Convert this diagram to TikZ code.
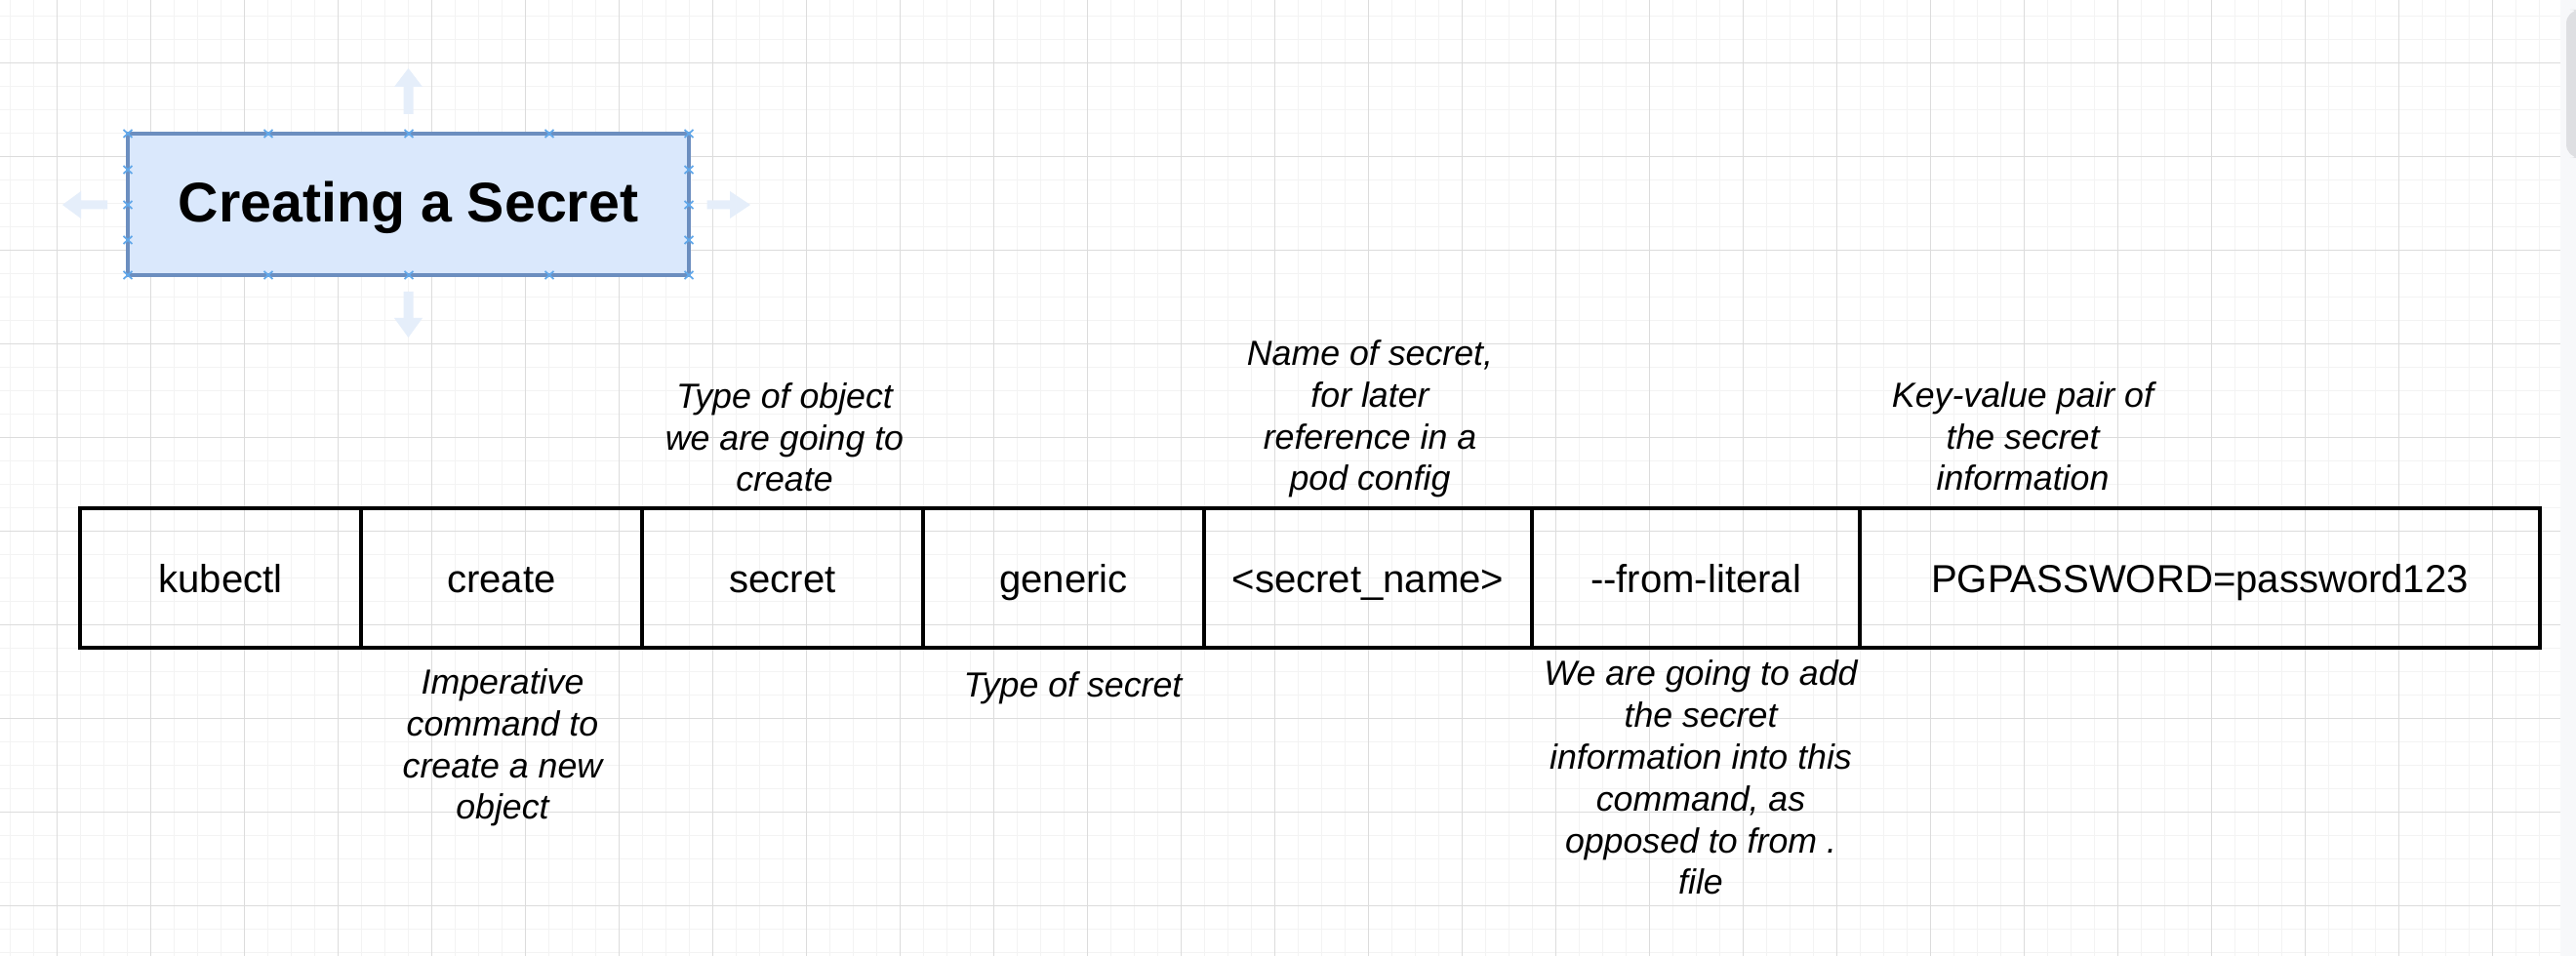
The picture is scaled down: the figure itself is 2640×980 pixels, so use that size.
\documentclass[tikz,border=0pt]{standalone}
\usepackage{fontspec}
\setmainfont{Liberation Sans}
\definecolor{gridminor}{RGB}{243,243,243}
\definecolor{gridmajor}{RGB}{220,220,220}
\definecolor{titlefill}{RGB}{218,232,252}
\definecolor{titleline}{RGB}{108,142,191}
\definecolor{handle}{RGB}{98,168,234}
\definecolor{hint}{RGB}{229,238,250}
\definecolor{barbg}{RGB}{247,248,250}
\definecolor{barthumb}{RGB}{222,223,226}

\begin{document}
\begin{tikzpicture}[x=0.01cm, y=-0.01cm,
    cell/.style={draw, line width=1pt, inner sep=0pt, outer sep=0pt,
      minimum height=1.43cm, text height=0.29cm, text depth=0pt,
      font=\fontsize{11.4pt}{13.7pt}\selectfont},
    note/.style={anchor=base, inner sep=0pt,
      font=\itshape\fontsize{10.16pt}{12.17pt}\selectfont},
    titlebox/.style={draw=titleline, fill=titlefill, line width=1.1pt,
      minimum width=5.75cm, minimum height=1.45cm, inner sep=0pt,
      text height=0.37cm, text depth=0pt,
      font=\bfseries\fontsize{16.3pt}{19.5pt}\selectfont}]
    \useasboundingbox (0,0) rectangle (2640,980);
    \fill[white] (0,0) rectangle (2640,980);

    % grid
    \foreach \x in {10.5,34.5,...,2620} \draw[gridminor, line width=0.3pt] (\x,0) -- (\x,980);
    \foreach \y in {16.3,40.3,...,980} \draw[gridminor, line width=0.3pt] (0,\y) -- (2624,\y);
    \foreach \x in {58.5,154.5,...,2620} \draw[gridmajor, line width=0.3pt] (\x,0) -- (\x,980);
    \foreach \y in {64.3,160.3,...,980} \draw[gridmajor, line width=0.3pt] (0,\y) -- (2624,\y);

    % scroll bar
    \fill[barbg] (2624,0) rectangle (2640,980);
    \fill[barthumb, rounded corners=4] (2630,10) rectangle (2648,162);

    % faint hint arrows round the title
    \fill[hint] (413.5,117) -- (413.5,89) -- (404,89) -- (418.5,70) -- (433,89)
      -- (423.5,89) -- (423.5,117) -- cycle;
    \fill[hint] (413.5,299) -- (413.5,326) -- (404,326) -- (418.5,346) -- (433,326)
      -- (423.5,326) -- (423.5,299) -- cycle;
    \fill[hint] (110,205.5) -- (83,205.5) -- (83,196) -- (64,210) -- (83,224)
      -- (83,214.5) -- (110,214.5) -- cycle;
    \fill[hint] (724.5,205.5) -- (748,205.5) -- (748,196) -- (769,210) -- (748,224)
      -- (748,214.5) -- (724.5,214.5) -- cycle;

    \draw (418.5,209.5) node (title) [titlebox] {Creating a Secret};
    \foreach \x in {131,275,419,563,706}
    {\foreach \y in {137,282}
      \draw[handle, line width=0.5pt] (\x-4.5,\y-4) -- (\x+4.5,\y+4) (\x-4.5,\y+4) -- (\x+4.5,\y-4);
    }
    \foreach \x in {131,706}
    {\foreach \y in {174,210,246}
      \draw[handle, line width=0.5pt] (\x-4.5,\y-4) -- (\x+4.5,\y+4) (\x-4.5,\y+4) -- (\x+4.5,\y-4);
    }

    % the command, one cell per word
    \foreach \x/\w/\n/\t in {82/288/kube/kubectl, 370/288/crt/create,
      658/288/sec/secret, 946/288/gen/generic, 1234/336/sname/{<secret\_name>},
      1570/336/lit/{-{}-from-literal}, 1906/697/pair/{PGPASSWORD=password123}}
      \draw (\x+\w/2,592.5) node (\n) [cell, minimum width=\w*0.01cm] {\t};

    \draw (804,504) node (objnote) [note]
    {\begin{tabular}[b]{@{}c@{}}Type of object\\we are going to\\create\end{tabular}};
    \draw (1404,503) node (namenote) [note]
    {\begin{tabular}[b]{@{}c@{}}Name of secret,\\for later\\reference in a\\pod config\end{tabular}};
    \draw (2073,503) node (pairnote) [note]
    {\begin{tabular}[b]{@{}c@{}}Key-value pair of\\the secret\\information\end{tabular}};

    \draw (515,711.5) node (cmdnote) [note]
    {\begin{tabular}[t]{@{}c@{}}Imperative\\command to\\create a new\\object\end{tabular}};
    \draw (1099.5,715) node (kindnote) [note] {Type of secret};
    \draw (1743,703) node (litnote) [note]
    {\begin{tabular}[t]{@{}c@{}}We are going to add\\the secret\\information into this\\command, as\\opposed to from .\\file\end{tabular}};
  \end{tikzpicture}
\end{document}
